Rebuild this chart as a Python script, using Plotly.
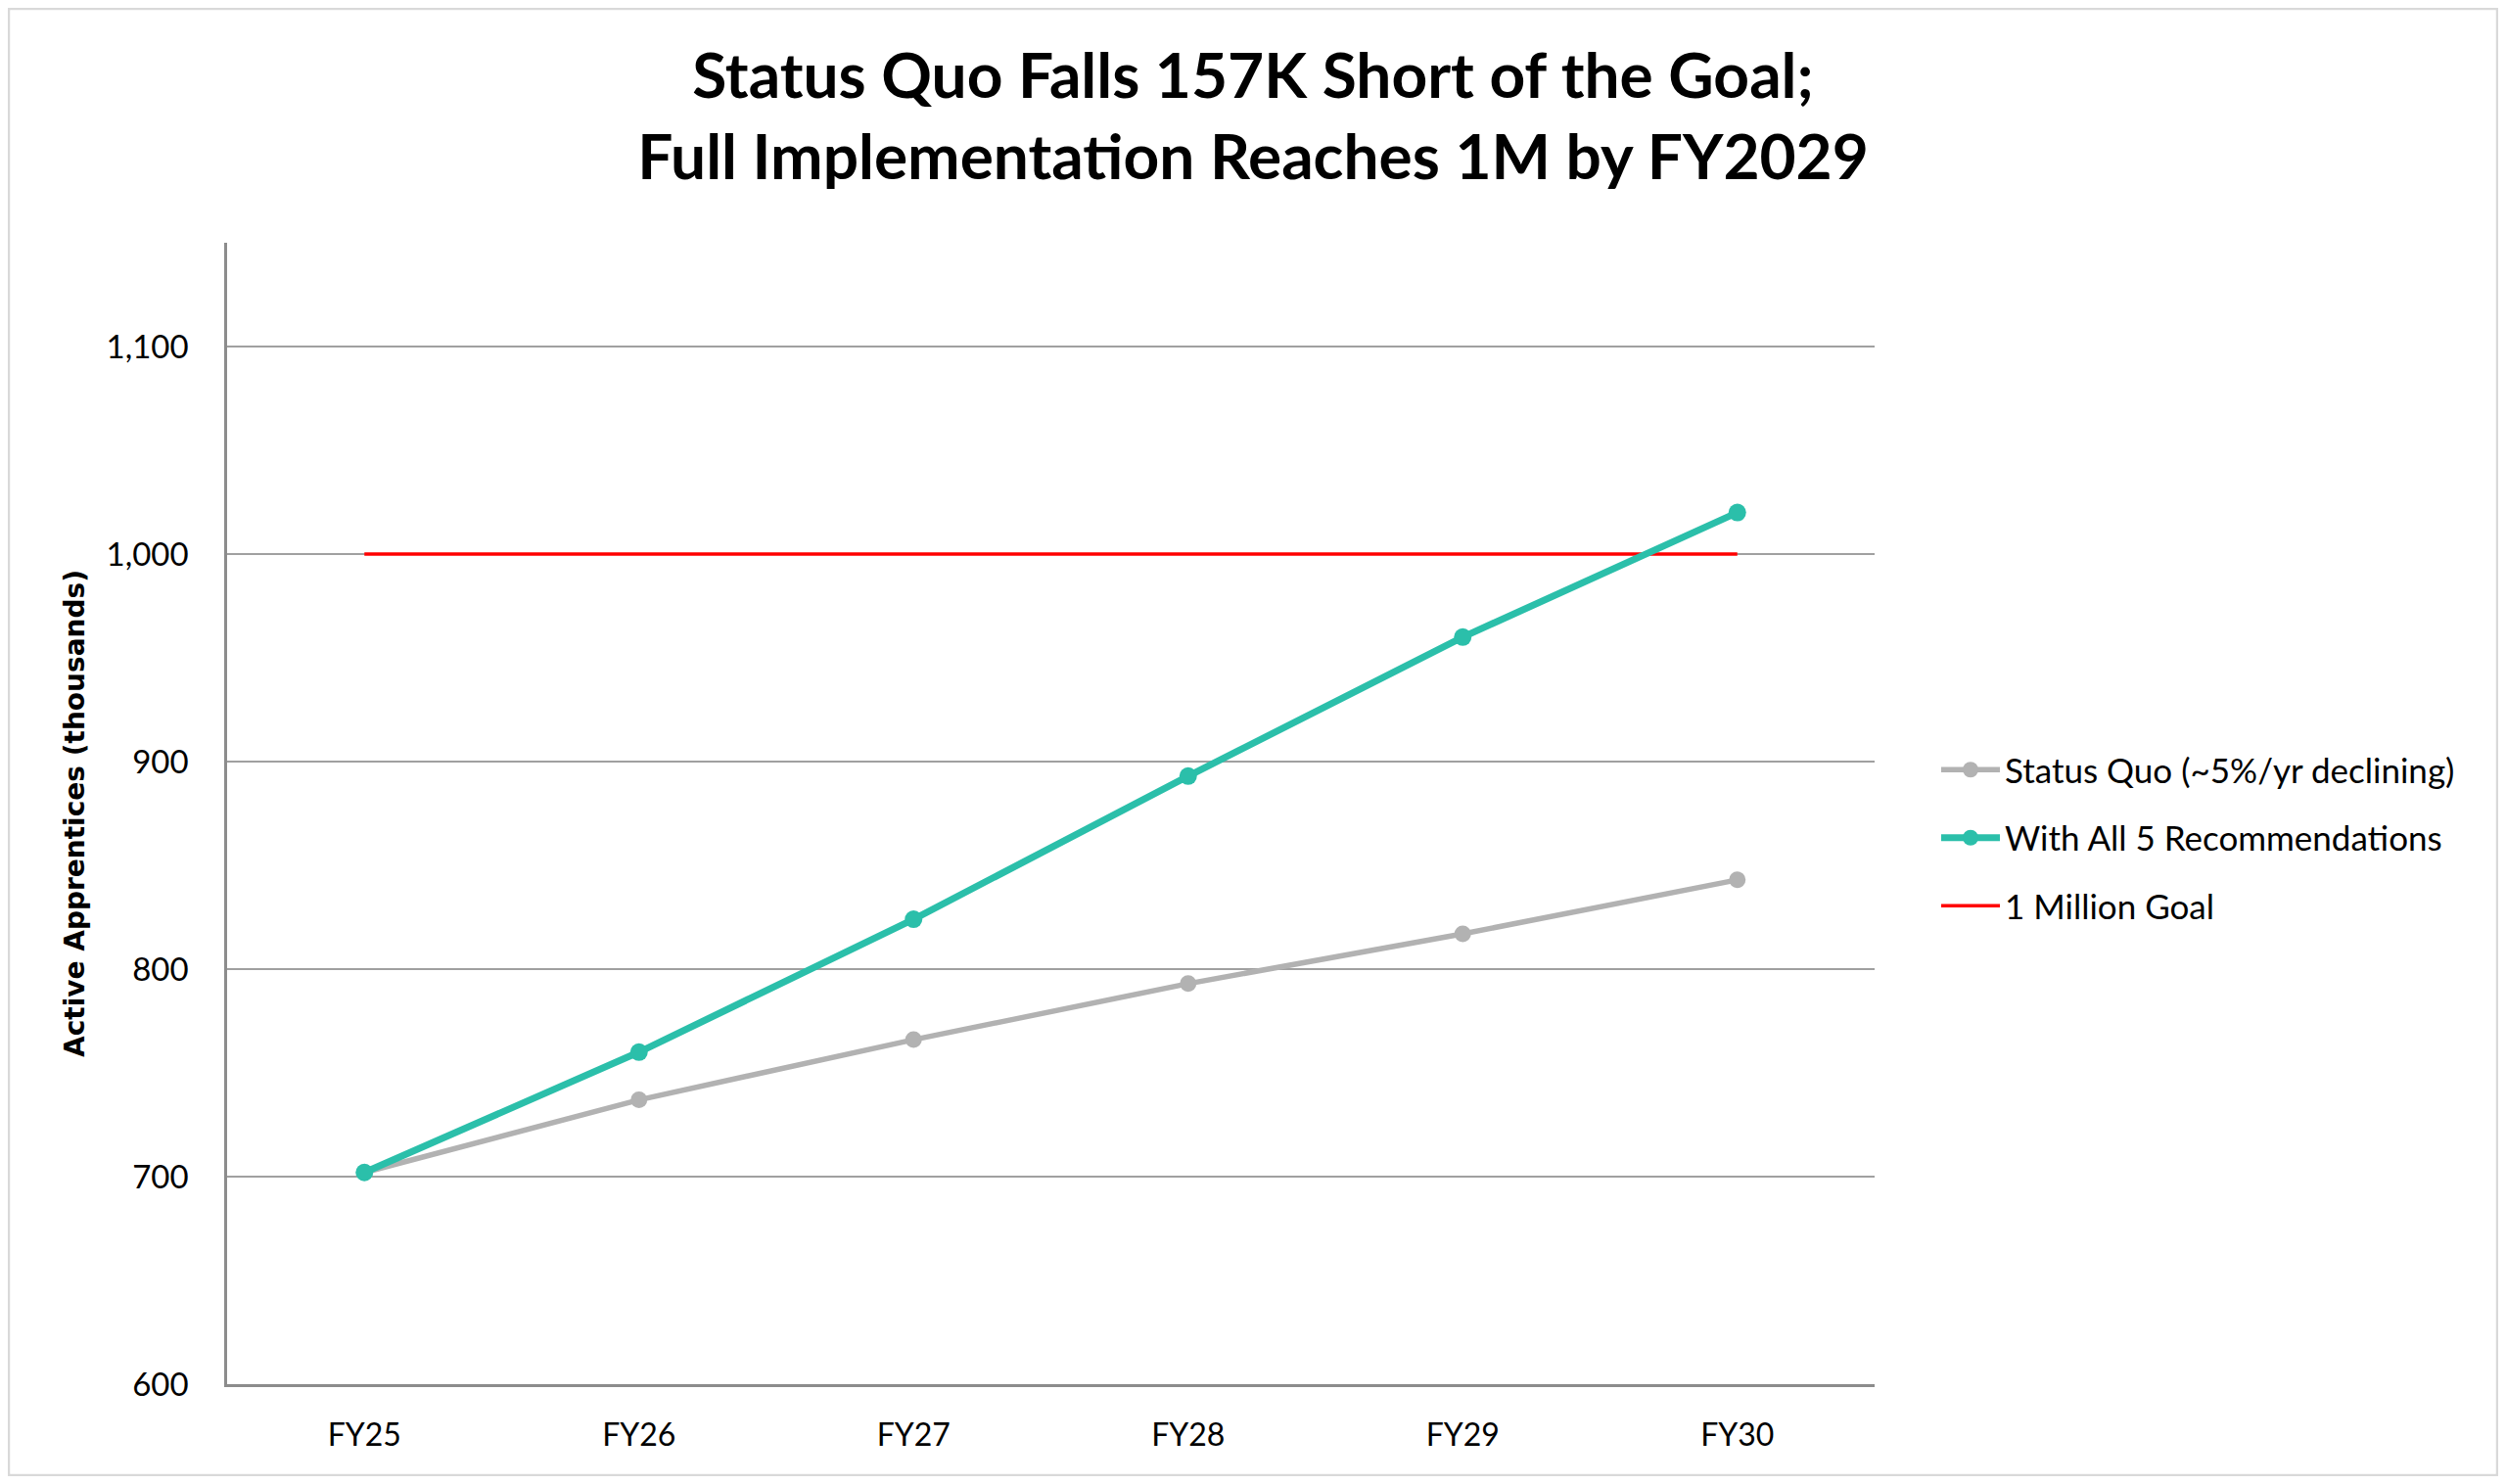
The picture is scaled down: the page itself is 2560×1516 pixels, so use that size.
"""
Apprentices: status quo vs. full implementation of the 5 recommendations
"""

import plotly.graph_objects as go

# data (thousands)
years = ["FY25", "FY26", "FY27", "FY28", "FY29", "FY30"]
status_quo = [702, 737, 766, 793, 817, 843]
all_five = [702, 760, 824, 893, 960, 1020]
goal = [1000, 1000, 1000, 1000, 1000, 1000]

names = ["Status Quo (~5%/yr declining)", "With All 5 Recommendations", "1 Million Goal"]
title_lines = ["Status Quo Falls 157K Short of the Goal;", "Full Implementation Reaches 1M by FY2029"]
y_ticks = [600, 700, 800, 900, 1000, 1100]

# geometry (the page body adds 8px around the figure)
W, H = 2544, 1500
ML, MT = 224, 240
MR = W - 1907
MB = H - 1406
font_txt = "Lato"

fig = go.Figure()

# red goal line drawn first so the other lines sit on top of it
fig.add_trace(go.Scatter(x=years, y=goal, name=names[2], mode="lines",
                         line=dict(color="#FF0000", width=3.5),
                         legendgroup="c", legendrank=3))
fig.add_trace(go.Scatter(x=years, y=status_quo, name=names[0], mode="lines+markers",
                         line=dict(color="#B2B2B2", width=5.5),
                         marker=dict(size=17, color="#B2B2B2"),
                         legendgroup="a", legendrank=1))
fig.add_trace(go.Scatter(x=years, y=all_five, name=names[1], mode="lines+markers",
                         line=dict(color="#2BBFAA", width=7),
                         marker=dict(size=18, color="#2BBFAA"),
                         legendgroup="b", legendrank=2))

pw = W - ML - MR
ph = H - MT - MB

fig.update_layout(
    width=W, height=H,
    margin=dict(l=ML, r=MR, t=MT, b=MB),
    paper_bgcolor="white", plot_bgcolor="white",
    font=dict(family=font_txt, size=32, color="black"),
    title=dict(text="<br>".join(title_lines), x=0.5, xanchor="center",
               y=1 - 92 / H, yanchor="middle",
               font=dict(family=font_txt, size=64, color="black", weight="bold")),
    xaxis=dict(type="category", range=[-0.5, 5.5], showgrid=False,
               showline=True, linecolor="#8C8C8C", linewidth=2.5,
               ticks="", ticklabelstandoff=22,
               tickfont=dict(family=font_txt, size=32)),
    yaxis=dict(range=[600, 1150], tickvals=y_ticks, tickformat=",",
               showgrid=True, gridcolor="#A0A0A0", gridwidth=2,
               showline=True, linecolor="#8C8C8C", linewidth=2.5,
               ticks="", ticklabelstandoff=30, zeroline=False,
               tickfont=dict(family=font_txt, size=33),
               title=dict(text="Active Apprentices (thousands)", standoff=14,
                          font=dict(family="DejaVu Sans", size=28, weight="bold"))),
    legend=dict(x=(1970 - ML) / pw, xanchor="left",
                y=(H - MB - 848) / ph, yanchor="middle",
                tracegroupgap=21, itemwidth=60,
                font=dict(family=font_txt, size=35), bgcolor="rgba(0,0,0,0)"),
    showlegend=True,
)

# light frame around the whole chart
fig.add_shape(type="rect", xref="paper", yref="paper",
              x0=(1 - ML) / pw, x1=(W - 1 - ML) / pw,
              y0=-(MB - 1) / ph, y1=1 + (MT - 1) / ph,
              line=dict(color="#D9D9D9", width=2.5), layer="below")

fig.write_html("out.html")
